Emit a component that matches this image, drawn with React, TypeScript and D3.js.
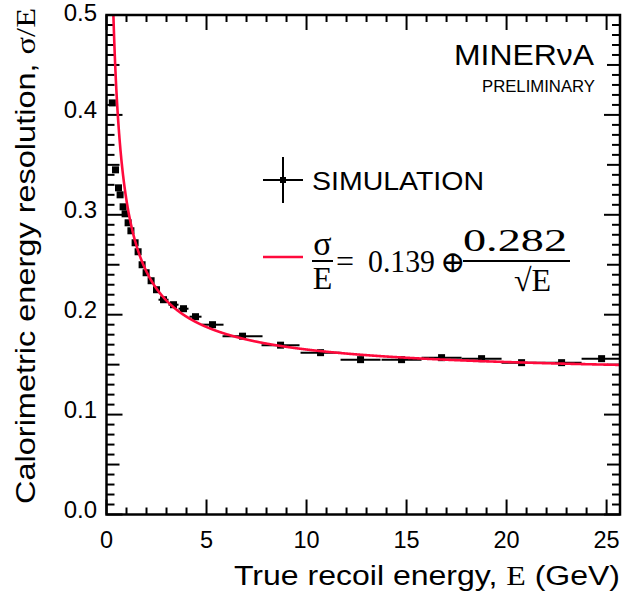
import React from "react";
import * as d3 from "d3";

// Simulated calorimetric resolution per true-recoil-energy bin
const energyGeV = [
  0.29, 0.45, 0.6, 0.68, 0.83, 0.93, 1.08, 1.22, 1.43, 1.58, 1.78, 1.98, 2.23, 2.5,
  2.85, 3.35, 3.85, 4.45, 5.3, 6.8, 8.7, 10.7, 12.7, 14.75, 16.75, 18.75, 20.75, 22.75, 24.75,
];
const resolution = [
  0.412, 0.345, 0.327, 0.32, 0.308, 0.301, 0.292, 0.284, 0.272, 0.263, 0.25, 0.242, 0.234, 0.225,
  0.215, 0.21, 0.206, 0.198, 0.19, 0.1785, 0.1695, 0.162, 0.155, 0.155, 0.157, 0.156, 0.152, 0.152, 0.156,
];
const binHalfWidth = [
  0.07, 0.07, 0.07, 0.07, 0.08, 0.08, 0.08, 0.1, 0.1, 0.1, 0.1, 0.12, 0.12, 0.15,
  0.25, 0.25, 0.25, 0.3, 0.55, 1.0, 0.95, 1.0, 1.0, 1.0, 1.0, 1.0, 1.0, 1.0, 1.0,
];

// Fit: sigma/E = a (+) b/sqrt(E)
const fitConstant = 0.139;
const fitStochastic = 0.282;

const xTickValues = [0, 5, 10, 15, 20, 25];
const xTickLabels = ["0", "5", "10", "15", "20", "25"];
const yTickValues = [0, 0.1, 0.2, 0.3, 0.4, 0.5];
const yTickLabels = ["0.0", "0.1", "0.2", "0.3", "0.4", "0.5"];

const W = 623;
const H = 597;
const frame = { left: 106.5, right: 620, top: 15, bottom: 514.5 };
const SANS = "'Liberation Sans', Arial, Helvetica, sans-serif";
const SERIF = "'Liberation Serif', 'Times New Roman', 'DejaVu Serif', serif";
const RED = "#ff0a3c";

export default function App() {
  const x = d3.scaleLinear().domain([0, 25.67]).range([frame.left, frame.right]);
  const y = d3.scaleLinear().domain([0, 0.5]).range([frame.bottom, frame.top]);

  const fit = (e: number) => Math.sqrt(fitConstant ** 2 + fitStochastic ** 2 / e);
  const curvePts: [number, number][] = d3.range(0.3, 25.68, 0.01).map((e) => [e, fit(e)]);
  const line = d3
    .line<[number, number]>()
    .x((d) => x(d[0]))
    .y((d) => y(d[1]));

  const xMinor = d3.range(0, 26, 1);
  const yMinor = d3.range(0, 51, 1);

  return (
    <svg
      width={W}
      height={H}
      viewBox={`0 0 ${W} ${H}`}
      style={{ position: "absolute", left: 0, top: 0, background: "#fff" }}
    >
      <defs>
        <clipPath id="plotArea">
          <rect
            x={frame.left}
            y={frame.top}
            width={frame.right - frame.left}
            height={frame.bottom - frame.top}
          />
        </clipPath>
      </defs>
      <rect width={W} height={H} fill="#fff" />

      {/* x-axis ticks, bottom and top */}
      {xMinor.map((v) => {
        const len = v % 5 === 0 ? 15 : 7;
        return (
          <g key={"xt" + v} stroke="#000" strokeWidth={2}>
            <line x1={x(v)} x2={x(v)} y1={frame.bottom} y2={frame.bottom - len} />
            <line x1={x(v)} x2={x(v)} y1={frame.top} y2={frame.top + len} />
          </g>
        );
      })}

      {/* y-axis ticks, left and right */}
      {yMinor.map((i) => {
        const v = i * 0.01;
        const len = i % 10 === 0 ? 16 : i % 5 === 0 ? 13 : 8;
        return (
          <g key={"yt" + i} stroke="#000" strokeWidth={2}>
            <line x1={frame.left} x2={frame.left + len} y1={y(v)} y2={y(v)} />
            <line x1={frame.right} x2={frame.right - len} y1={y(v)} y2={y(v)} />
          </g>
        );
      })}

      {/* data points with bin-width bars */}
      <g>
        {energyGeV.map((e, i) => (
          <g key={"p" + i}>
            <line
              x1={x(e - binHalfWidth[i])}
              x2={x(Math.min(e + binHalfWidth[i], 25.67))}
              y1={y(resolution[i])}
              y2={y(resolution[i])}
              stroke="#000"
              strokeWidth={2}
            />
            <rect x={x(e) - 3.5} y={y(resolution[i]) - 3.5} width={7} height={7} fill="#000" />
          </g>
        ))}
      </g>

      {/* fit curve */}
      <path
        d={line(curvePts) || ""}
        fill="none"
        stroke={RED}
        strokeWidth={2.6}
        clipPath="url(#plotArea)"
      />

      {/* frame */}
      <rect
        x={frame.left}
        y={frame.top}
        width={frame.right - frame.left}
        height={frame.bottom - frame.top}
        fill="none"
        stroke="#000"
        strokeWidth={2.5}
      />

      {/* tick labels */}
      {xTickValues.map((v, i) => (
        <text
          key={"xl" + v}
          x={x(v)}
          y={548}
          textAnchor="middle"
          fontFamily={SANS}
          fontSize={23.5}
          fill="#000"
        >
          {xTickLabels[i]}
        </text>
      ))}
      {yTickValues.map((v, i) => (
        <text
          key={"yl" + v}
          x={97}
          y={Math.max(y(v) + 3.5, 21)}
          textAnchor="end"
          fontFamily={SANS}
          fontSize={24}
          fill="#000"
        >
          {yTickLabels[i]}
        </text>
      ))}

      {/* axis titles */}
      <text
        x={234}
        y={585}
        fontFamily={SANS}
        fontSize={27}
        textLength={386}
        lengthAdjust="spacingAndGlyphs"
        fill="#000"
      >
        True recoil energy,{" "}
        <tspan fontFamily={SERIF}>E</tspan> (GeV)
      </text>
      <text
        x={35}
        y={504}
        transform="rotate(-90, 35, 504)"
        fontFamily={SANS}
        fontSize={27}
        textLength={496}
        lengthAdjust="spacingAndGlyphs"
        fill="#000"
      >
        Calorimetric energy resolution,{" "}
        <tspan fontFamily={SERIF}>σ/E</tspan>
      </text>

      {/* experiment label */}
      <text
        x={454}
        y={65}
        fontFamily={SANS}
        fontSize={29}
        textLength={140}
        lengthAdjust="spacingAndGlyphs"
        fill="#000"
      >
        MINERνA
      </text>
      <text
        x={482}
        y={92}
        fontFamily={SANS}
        fontSize={17}
        textLength={113}
        lengthAdjust="spacingAndGlyphs"
        fill="#000"
      >
        PRELIMINARY
      </text>

      {/* legend: simulation */}
      <g stroke="#000" strokeWidth={2}>
        <line x1={263} x2={303} y1={180} y2={180} />
        <line x1={283} x2={283} y1={157} y2={203} />
      </g>
      <rect x={280} y={177} width={6} height={6} fill="#000" />
      <text
        x={312}
        y={190}
        fontFamily={SANS}
        fontSize={26}
        textLength={172}
        lengthAdjust="spacingAndGlyphs"
        fill="#000"
      >
        SIMULATION
      </text>

      {/* legend: fit formula */}
      <line x1={263} x2={303} y1={257} y2={257} stroke={RED} strokeWidth={2.6} />
      <g fontFamily={SERIF} fill="#000">
        <text x={322.5} y={255} textAnchor="middle" fontSize={34}>
          σ
        </text>
        <line x1={312} x2={333} y1={261} y2={261} stroke="#000" strokeWidth={2} />
        <text x={322.5} y={289} textAnchor="middle" fontSize={32}>
          E
        </text>
        <text x={336} y={272} fontSize={32}>
          =
        </text>
        <text x={368} y={272} fontSize={31} textLength={67} lengthAdjust="spacingAndGlyphs">
          0.139
        </text>
        <text x={440} y={272} fontSize={30}>
          ⊕
        </text>
        <text x={463} y={251} fontSize={31} textLength={104} lengthAdjust="spacingAndGlyphs">
          0.282
        </text>
        <line x1={463} x2={570} y1={261} y2={261} stroke="#000" strokeWidth={2} />
        <text x={514} y={291} fontSize={32}>
          √E
        </text>
      </g>
    </svg>
  );
}
